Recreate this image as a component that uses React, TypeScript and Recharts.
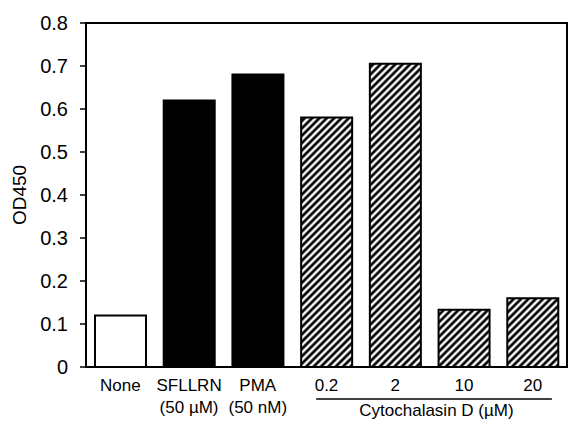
import React from "react";
import { BarChart, Bar, XAxis, YAxis, Cell, ReferenceArea } from "recharts";

const categories = ["None", "SFLLRN", "PMA", "0.2", "2", "10", "20"];
const subLabels = ["", "(50 µM)", "(50 nM)", "", "", "", ""];
const values = [0.12, 0.62, 0.68, 0.58, 0.705, 0.133, 0.16];
const fills = ["#ffffff", "#000000", "#000000", "url(#hatch)", "url(#hatch)", "url(#hatch)", "url(#hatch)"];
const yTicks = [0, 0.1, 0.2, 0.3, 0.4, 0.5, 0.6, 0.7, 0.8];
const groupLabel = "Cytochalasin D (µM)";
const groupStart = 3;

const data = categories.map((c, i) => ({ name: c, sub: subLabels[i], value: values[i] }));

const FONT = "Liberation Sans, Arial, Helvetica, sans-serif";
const W = 569;
const H = 425;
const PLOT_LEFT = 86;
const PLOT_RIGHT = 567;
const SLOT = (PLOT_RIGHT - PLOT_LEFT) / categories.length;
const XFS = 17;

const XTick = (props: any) => {
  const { x, y, payload, index } = props;
  const i = index ?? payload.index;
  const sub = subLabels[i];
  return (
    <g>
      <text x={x} y={y + 24} textAnchor="middle" style={{ fontSize: XFS, fontFamily: FONT }} fill="#000">
        {payload.value}
      </text>
      {sub ? (
        <text x={x} y={y + 46} textAnchor="middle" style={{ fontSize: XFS, fontFamily: FONT }} fill="#000">
          {sub}
        </text>
      ) : null}
      {i === groupStart ? (
        <g>
          <line
            x1={x - 0.15 * SLOT}
            x2={x + 3.28 * SLOT}
            y1={y + 32}
            y2={y + 32}
            stroke="#000"
            strokeWidth={1.5}
          />
          <text
            x={x + 1.6 * SLOT}
            y={y + 49}
            textAnchor="middle"
            style={{ fontSize: XFS, fontFamily: FONT }}
            fill="#000"
          >
            {groupLabel}
          </text>
        </g>
      ) : null}
    </g>
  );
};

const YTick = (props: any) => {
  const { x, y, payload } = props;
  const v = payload.value as number;
  return (
    <text x={x} y={y} dy={7} textAnchor="end" style={{ fontSize: 20, fontFamily: FONT }} fill="#000">
      {v === 0 ? "0" : v.toFixed(1)}
    </text>
  );
};

export default function App() {
  return (
    <div style={{ position: "absolute", left: 0, top: 0, width: W, height: H, background: "#fff" }}>
      <BarChart
        width={W}
        height={H}
        data={data}
        margin={{ top: 23, right: W - PLOT_RIGHT, bottom: 0, left: 0 }}
        barSize={51}
      >
        <defs>
          <pattern id="hatch" patternUnits="userSpaceOnUse" width={5.2} height={5.2} patternTransform="rotate(45)">
            <rect x={0} y={0} width={5.2} height={5.2} fill="#fff" />
            <line x1={2.6} y1={-1} x2={2.6} y2={6.2} stroke="#000" strokeWidth={2.7} />
          </pattern>
        </defs>
        <XAxis
          xAxisId="bottom"
          dataKey="name"
          height={58}
          interval={0}
          tickLine={false}
          tickSize={0}
          tickMargin={0}
          axisLine={{ stroke: "#000", strokeWidth: 2 }}
          tick={<XTick />}
        />
        <YAxis
          yAxisId="left"
          width={PLOT_LEFT}
          domain={[0, 0.8]}
          ticks={yTicks}
          interval={0}
          tickSize={6}
          tickMargin={12}
          tickLine={{ stroke: "#000", strokeWidth: 1.5 }}
          axisLine={{ stroke: "#000", strokeWidth: 2 }}
          tick={<YTick />}
          label={{
            value: "OD450",
            angle: -90,
            position: "insideLeft",
            offset: 19,
            style: { fontSize: 19, fill: "#000", fontFamily: FONT, textAnchor: "middle" },
          }}
        />
        <ReferenceArea
          xAxisId="bottom"
          yAxisId="left"
          x1={categories[0]}
          x2={categories[categories.length - 1]}
          y1={0}
          y2={0.8}
          fill="none"
          fillOpacity={0}
          stroke="#000"
          strokeWidth={2}
          strokeOpacity={1}
          ifOverflow="visible"
        />
        <Bar
          dataKey="value"
          xAxisId="bottom"
          yAxisId="left"
          stroke="#000"
          strokeWidth={2}
          isAnimationActive={false}
        >
          {data.map((d, i) => (
            <Cell key={d.name} fill={fills[i]} />
          ))}
        </Bar>
      </BarChart>
    </div>
  );
}
